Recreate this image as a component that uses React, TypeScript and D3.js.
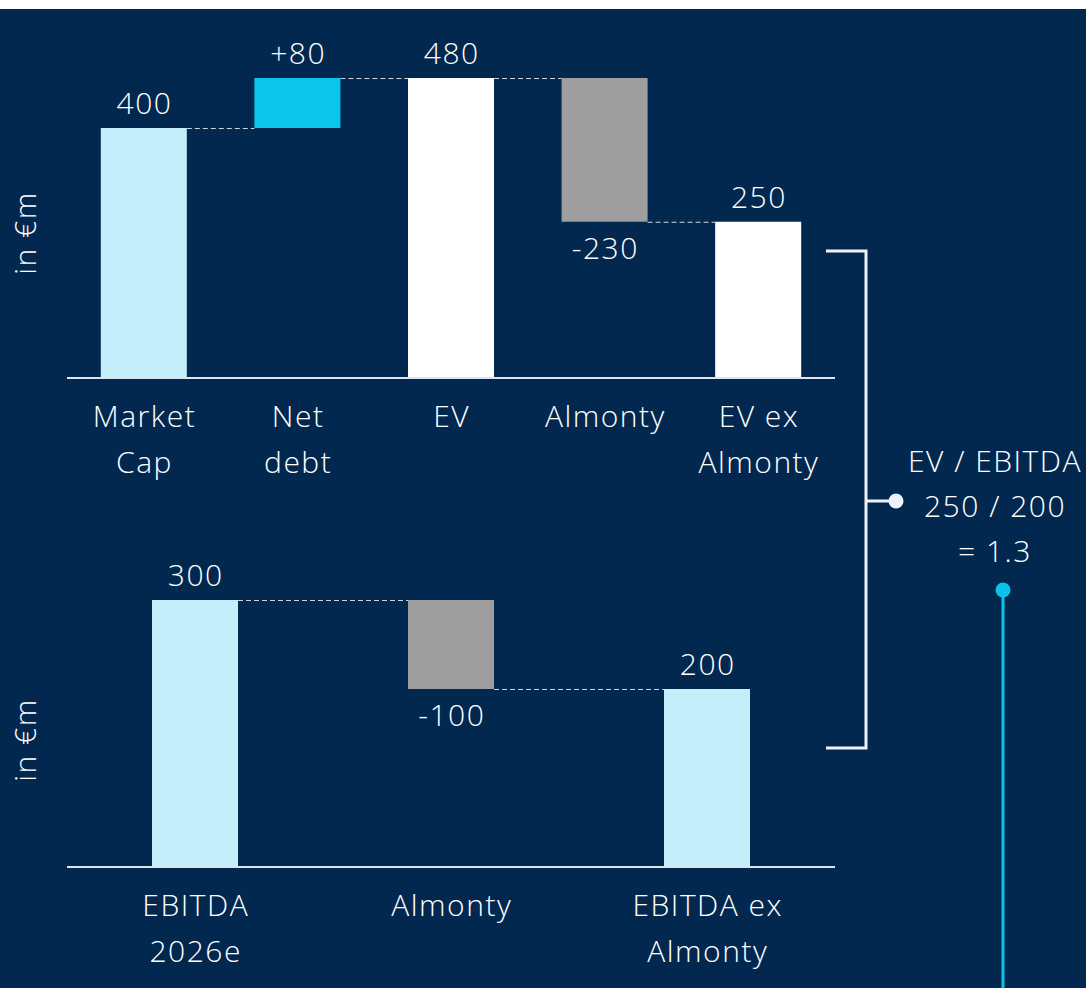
import { useEffect, useRef } from 'react';
import * as d3 from 'd3';

// top waterfall: EV build-up
const evCategories = [['Market', 'Cap'], ['Net', 'debt'], ['EV'], ['Almonty'], ['EV ex', 'Almonty']];
const evValues = [400, 80, 480, -230, 250];
const evKinds = ['total', 'delta', 'total', 'delta', 'total'];
const evLabels = ['400', '+80', '480', '-230', '250'];
const evColors = ['#c4eefa', '#0bc5ea', '#ffffff', '#9e9e9e', '#ffffff'];

// bottom waterfall: EBITDA
const ebitdaCategories = [['EBITDA', '2026e'], ['Almonty'], ['EBITDA ex', 'Almonty']];
const ebitdaValues = [300, -100, 200];
const ebitdaKinds = ['total', 'delta', 'total'];
const ebitdaLabels = ['300', '-100', '200'];
const ebitdaColors = ['#c4eefa', '#9e9e9e', '#c4eefa'];

const ratioLines = ['EV / EBITDA', '250 / 200', '= 1.3'];

const BG = '#022850';
const FONT = '"Open Sans", Lato, sans-serif';
const FS = 30;
const LS = 1.5;

const App = () => {
  const svgRef = useRef(null);

  useEffect(() => {
    const svg = d3.select(svgRef.current);
    svg.selectAll('*').remove();

    svg.append('rect')
      .attr('x', 0).attr('y', 9)
      .attr('width', 1086).attr('height', 979)
      .attr('fill', BG);

    const label = (sel) => sel
      .attr('text-anchor', 'middle')
      .attr('fill', '#ffffff')
      .attr('font-family', FONT)
      .attr('font-weight', 300)
      .attr('font-size', FS)
      .attr('letter-spacing', LS);

    const drawWaterfall = (cfg) => {
      const { cats, values, kinds, labels, colors, domainMax, yTop, yBase, padInner, padOuter, axisLabelY } = cfg;
      const x = d3.scaleBand()
        .domain(cats.map((_, i) => i))
        .range([67, 835])
        .paddingInner(padInner)
        .paddingOuter(padOuter);
      const y = d3.scaleLinear().domain([0, domainMax]).range([yBase, yTop]);

      // running levels
      let level = 0;
      const bars = values.map((v, i) => {
        let lo, hi;
        if (kinds[i] === 'total') { lo = 0; hi = v; level = v; }
        else { const start = level; level = level + v; lo = Math.min(start, level); hi = Math.max(start, level); }
        return { i, v, lo, hi, end: level };
      });

      const g = svg.append('g');

      // connectors
      bars.slice(0, -1).forEach((b) => {
        g.append('line')
          .attr('x1', x(b.i) + x.bandwidth())
          .attr('x2', x(b.i + 1))
          .attr('y1', y(b.end) + 0.5)
          .attr('y2', y(b.end) + 0.5)
          .attr('stroke', '#c9d3df')
          .attr('stroke-width', 1)
          .attr('stroke-dasharray', '5,3');
      });

      g.selectAll('rect.bar')
        .data(bars)
        .join('rect')
        .attr('class', 'bar')
        .attr('x', d => x(d.i))
        .attr('width', x.bandwidth())
        .attr('y', d => y(d.hi))
        .attr('height', d => y(d.lo) - y(d.hi))
        .attr('fill', d => colors[d.i]);

      // baseline
      g.append('line')
        .attr('x1', 67).attr('x2', 835)
        .attr('y1', yBase).attr('y2', yBase)
        .attr('stroke', '#dde4ec')
        .attr('stroke-width', 2);

      // value labels
      g.selectAll('text.val')
        .data(bars)
        .join('text')
        .attr('class', 'val')
        .attr('x', d => x(d.i) + x.bandwidth() / 2 + LS / 2)
        .attr('y', d => d.v < 0 ? y(d.lo) + 37 : y(d.hi) - 14)
        .call(label)
        .text(d => labels[d.i]);

      // category labels
      cats.forEach((lines, i) => {
        const t = g.append('text').call(label);
        lines.forEach((ln, j) => {
          t.append('tspan')
            .attr('x', x(i) + x.bandwidth() / 2 + LS / 2)
            .attr('y', yBase + 49 + j * 46)
            .text(ln);
        });
      });

      // axis title
      g.append('text')
        .attr('transform', `translate(36,${axisLabelY}) rotate(-90)`)
        .call(label)
        .text('in €m');
    };

    drawWaterfall({
      cats: evCategories, values: evValues, kinds: evKinds, labels: evLabels, colors: evColors,
      domainMax: 480, yTop: 78, yBase: 378, padInner: 0.44, padOuter: 0.22, axisLabelY: 233,
    });
    drawWaterfall({
      cats: ebitdaCategories, values: ebitdaValues, kinds: ebitdaKinds, labels: ebitdaLabels, colors: ebitdaColors,
      domainMax: 300, yTop: 600, yBase: 867, padInner: 0.664, padOuter: 0.332, axisLabelY: 740,
    });

    // bracket linking EV ex Almonty and EBITDA ex Almonty
    svg.append('path')
      .attr('d', 'M826,251H866V748H826M866,501H896')
      .attr('fill', 'none')
      .attr('stroke', '#eef3fa')
      .attr('stroke-width', 3);
    svg.append('circle')
      .attr('cx', 896).attr('cy', 501).attr('r', 7.5)
      .attr('fill', '#eef3fa');

    const ratio = svg.append('text').call(label);
    ratioLines.forEach((ln, j) => {
      ratio.append('tspan')
        .attr('x', 995)
        .attr('y', 472 + j * 45)
        .text(ln);
    });

    svg.append('line')
      .attr('x1', 1003).attr('x2', 1003)
      .attr('y1', 590).attr('y2', 988)
      .attr('stroke', '#0bc3ea')
      .attr('stroke-width', 3);
    svg.append('circle')
      .attr('cx', 1003).attr('cy', 590).attr('r', 7.5)
      .attr('fill', '#0bc3ea');
  }, []);

  return (
    <svg
      ref={svgRef}
      width={1086}
      height={988}
      style={{ position: 'absolute', left: 0, top: 0, display: 'block' }}
    />
  );
};

export default App;
